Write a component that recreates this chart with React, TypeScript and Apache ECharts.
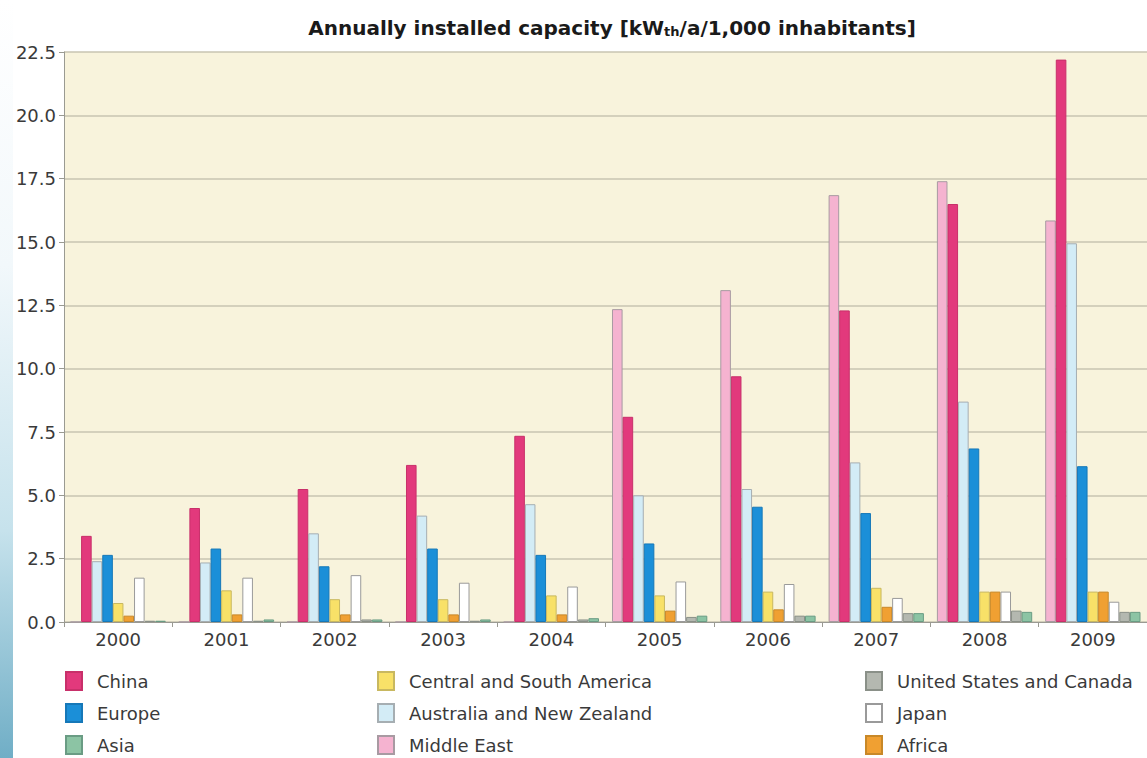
import React, { useEffect, useRef } from "react";
import * as echarts from "echarts";

const years = ["2000", "2001", "2002", "2003", "2004", "2005", "2006", "2007", "2008", "2009"];
const yTicks = [0, 2.5, 5, 7.5, 10, 12.5, 15, 17.5, 20, 22.5];

// values in kWth / a / 1,000 inhabitants
const middleEast = [0, 0, 0, 0, 0, 12.35, 13.1, 16.85, 17.4, 15.85];
const china = [3.4, 4.5, 5.25, 6.2, 7.35, 8.1, 9.7, 12.3, 16.5, 22.2];
const australiaNZ = [2.4, 2.35, 3.5, 4.2, 4.65, 5.0, 5.25, 6.3, 8.7, 14.95];
const europe = [2.65, 2.9, 2.2, 2.9, 2.65, 3.1, 4.55, 4.3, 6.85, 6.15];
const centralSouthAmerica = [0.75, 1.25, 0.9, 0.9, 1.05, 1.05, 1.2, 1.35, 1.2, 1.2];
const africa = [0.25, 0.3, 0.3, 0.3, 0.3, 0.45, 0.5, 0.6, 1.2, 1.2];
const japan = [1.75, 1.75, 1.85, 1.55, 1.4, 1.6, 1.5, 0.95, 1.2, 0.8];
const usCanada = [0.05, 0.05, 0.1, 0.05, 0.1, 0.2, 0.25, 0.35, 0.45, 0.4];
const asia = [0.05, 0.1, 0.1, 0.1, 0.15, 0.25, 0.25, 0.35, 0.4, 0.4];

// legend layout: columns of names
const legendColumns = [
  ["China", "Europe", "Asia"],
  ["Central and South America", "Australia and New Zealand", "Middle East"],
  ["United States and Canada", "Japan", "Africa"],
];

const FONT = "DejaVu Sans";

export default function App() {
  const ref = useRef<HTMLDivElement>(null);
  useEffect(() => {
    document.body.style.margin = "0";
    const chart = echarts.init(ref.current!, null, { renderer: "svg" });
    const mk = (name: string, data: number[], color: string, border: string) => ({
      name,
      type: "bar",
      data,
      barGap: "0%",
      barCategoryGap: "12%",
      itemStyle: { color, borderColor: border, borderWidth: 1 },
    });
    const series = [
      mk("Middle East", middleEast, "#f5b3d0", "#a89aa2"),
      mk("China", china, "#e2397c", "#c8306a"),
      mk("Australia and New Zealand", australiaNZ, "#d3ecf6", "#a6aeb2"),
      mk("Europe", europe, "#1b8fd8", "#1678b8"),
      mk("Central and South America", centralSouthAmerica, "#f8e168", "#c8b860"),
      mk("Africa", africa, "#f0a032", "#c88828"),
      mk("Japan", japan, "#ffffff", "#9a9a9a"),
      mk("United States and Canada", usCanada, "#b4b8b0", "#8a9088"),
      mk("Asia", asia, "#8cc4a4", "#6a9c84"),
    ];
    const colLeft = [60, 372, 860];
    const legends: any[] = [];
    legendColumns.forEach((col, ci) => {
      col.forEach((name, ri) => {
        legends.push({
          orient: "horizontal",
          left: colLeft[ci],
          top: 666 + ri * 32,
          itemWidth: 16,
          itemHeight: 18,
          icon: "rect",
          textStyle: { fontFamily: FONT, fontSize: 18, color: "#3a3a3a", padding: [0, 0, 0, 10] },
          selectedMode: false,
          data: [name],
        });
      });
    });
    chart.setOption({
      animation: false,
      backgroundColor: "#ffffff",
      textStyle: { fontFamily: FONT },
      grid: {
        left: 64,
        top: 52,
        width: 1092,
        height: 570,
        show: true,
        backgroundColor: "#f8f3dc",
        borderWidth: 0,
      },
      legend: legends,
      xAxis: {
        type: "category",
        data: years,
        axisLine: { lineStyle: { color: "#9a9a92", width: 1 } },
        axisTick: { show: true, length: 5, lineStyle: { color: "#9a9a92" } },
        axisLabel: { fontFamily: FONT, fontSize: 18, color: "#3a3a3a", margin: 8 },
      },
      yAxis: {
        type: "value",
        min: 0,
        max: 22.5,
        interval: 2.5,
        axisLine: { show: true, lineStyle: { color: "#9a9a92", width: 1 } },
        axisTick: { show: true, length: 5, lineStyle: { color: "#9a9a92" } },
        axisLabel: {
          fontFamily: FONT,
          fontSize: 18,
          color: "#3a3a3a",
          margin: 8,
          formatter: (v: number) => (yTicks.includes(v) ? v.toFixed(1) : ""),
        },
        splitLine: { lineStyle: { color: "#c9c5b2", width: 1.5 } },
      },
      graphic: [
        {
          type: "rect",
          shape: { x: 0, y: 0, width: 13, height: 758 },
          style: {
            fill: new echarts.graphic.LinearGradient(0, 0, 0, 1, [
              { offset: 0, color: "rgba(255,255,255,1)" },
              { offset: 0.35, color: "#f2f8fb" },
              { offset: 0.7, color: "#c6e2ec" },
              { offset: 1, color: "#70aec6" },
            ]),
          },
          silent: true,
        },
        {
          type: "text",
          x: 612,
          y: 28,
          style: {
            text: "Annually installed capacity [kW{s|th}/a/1,000 inhabitants]",
            font: `bold 20px ${FONT}`,
            fill: "#1a1a1a",
            align: "center",
            verticalAlign: "middle",
            rich: {
              s: { fontSize: 13, fontWeight: "bold", fontFamily: FONT, fill: "#1a1a1a", padding: [7, 0, 0, 0] },
            },
          },
        },
      ],
      series,
    });
    return () => chart.dispose();
  }, []);
  return <div ref={ref} style={{ width: 1147, height: 758 }} />;
}
